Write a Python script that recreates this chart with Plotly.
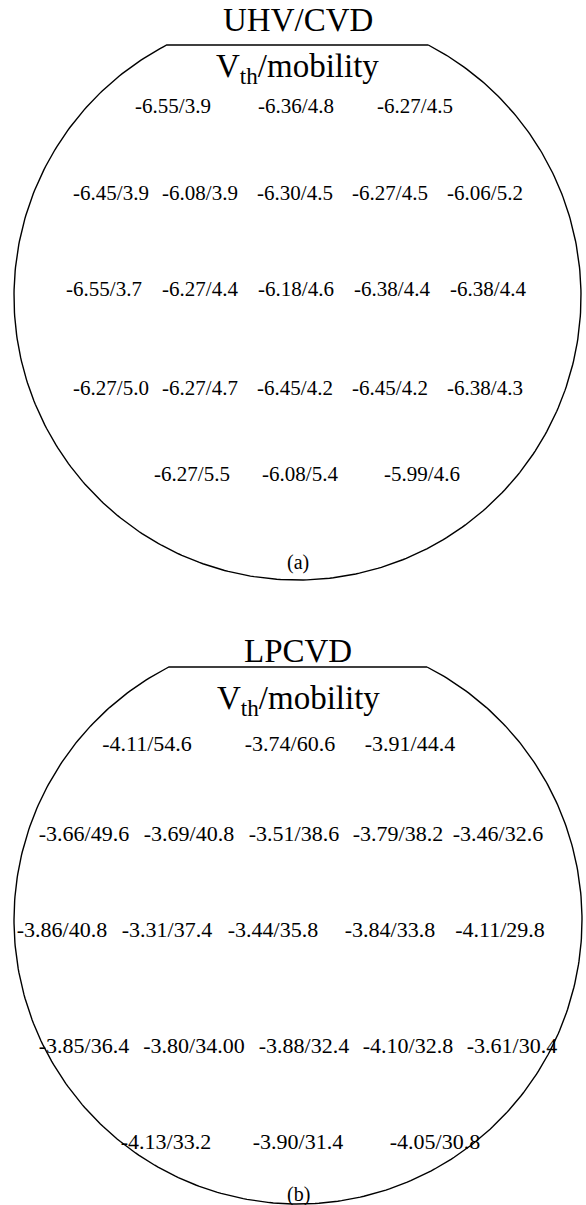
import numpy as np
import plotly.graph_objects as go

W, H = 586, 1205
FONT = "Liberation Serif"

# ---- measured data: threshold voltage (V) / mobility (cm^2/Vs) per die ----
uhv_vth = [-6.55, -6.36, -6.27,
           -6.45, -6.08, -6.30, -6.27, -6.06,
           -6.55, -6.27, -6.18, -6.38, -6.38,
           -6.27, -6.27, -6.45, -6.45, -6.38,
           -6.27, -6.08, -5.99]
uhv_mob = [3.9, 4.8, 4.5,
           3.9, 3.9, 4.5, 4.5, 5.2,
           3.7, 4.4, 4.6, 4.4, 4.4,
           5.0, 4.7, 4.2, 4.2, 4.3,
           5.5, 5.4, 4.6]
uhv_mob_dec = [1] * 21

lp_vth = [-4.11, -3.74, -3.91,
          -3.66, -3.69, -3.51, -3.79, -3.46,
          -3.86, -3.31, -3.44, -3.84, -4.11,
          -3.85, -3.80, -3.88, -4.10, -3.61,
          -4.13, -3.90, -4.05]
lp_mob = [54.6, 60.6, 44.4,
          49.6, 40.8, 38.6, 38.2, 32.6,
          40.8, 37.4, 35.8, 33.8, 29.8,
          36.4, 34.00, 32.4, 32.8, 30.4,
          33.2, 31.4, 30.8]
lp_mob_dec = [1] * 21
lp_mob_dec[14] = 2

# ---- placement of the die labels on each wafer (pixel positions) ----
uhv_rows_y = [108, 195, 291, 390, 476]
uhv_cols_x = [[173, 296, 415],
              [111, 200, 295, 390, 485],
              [104, 200, 296, 392, 488],
              [111, 200, 295, 390, 485],
              [192, 300, 422]]

lp_rows_y = [745, 835, 931, 1047, 1143]
lp_cols_x = [[147, 290, 410],
             [84, 189, 294, 398, 498],
             [62, 167, 273, 390, 500],
             [84, 194, 304, 408, 512],
             [166, 298, 435]]


def wafer_outline(cx, cy, r, y_flat, n=400):
    """Circle with a flat cut at y = y_flat (screen coords, y grows downward)."""
    half = np.sqrt(r ** 2 - (cy - y_flat) ** 2)
    a0 = np.arctan2(y_flat - cy, half)               # right end of the flat
    a1 = np.arctan2(y_flat - cy, -half) + 2 * np.pi  # left end, going round the bottom
    t = np.linspace(a0, a1, n)
    xs = cx + r * np.cos(t)
    ys = cy + r * np.sin(t)
    xs = np.append(xs, xs[0])
    ys = np.append(ys, ys[0])
    return xs, ys


def fmt(v, m, d):
    return f"{v:.2f}/{m:.{d}f}"


fig = go.Figure()

wafers = [
    dict(cx=297.5, cy=296.5, r=283.5, flat=45, title="UHV/CVD", title_y=20, sub_y=68,
         vth=uhv_vth, mob=uhv_mob, dec=uhv_mob_dec, rows=uhv_rows_y, cols=uhv_cols_x,
         size=21, tag="(a)", tag_y=562),
    dict(cx=298, cy=920, r=284, flat=667, title="LPCVD", title_y=651, sub_y=700,
         vth=lp_vth, mob=lp_mob, dec=lp_mob_dec, rows=lp_rows_y, cols=lp_cols_x,
         size=22, tag="(b)", tag_y=1194),
]

for wf in wafers:
    xs, ys = wafer_outline(wf["cx"], wf["cy"], wf["r"], wf["flat"])
    fig.add_trace(go.Scatter(x=xs, y=ys, mode="lines",
                             line=dict(color="black", width=1.4),
                             hoverinfo="skip", showlegend=False))

    tx, ty, tt = [], [], []
    k = 0
    for row_y, cols in zip(wf["rows"], wf["cols"]):
        for x in cols:
            tx.append(x)
            ty.append(row_y)
            tt.append(fmt(wf["vth"][k], wf["mob"][k], wf["dec"][k]))
            k += 1
    fig.add_trace(go.Scatter(x=tx, y=ty, mode="text", text=tt,
                             textposition="middle center",
                             textfont=dict(family=FONT, size=wf["size"], color="black"),
                             hoverinfo="skip", showlegend=False))

    fig.add_annotation(x=wf["cx"], y=wf["title_y"], text=wf["title"], showarrow=False,
                       font=dict(family=FONT, size=33, color="black"),
                       xanchor="center", yanchor="middle")
    fig.add_annotation(x=wf["cx"], y=wf["sub_y"], text="V<sub>th</sub>/mobility",
                       showarrow=False, font=dict(family=FONT, size=33, color="black"),
                       xanchor="center", yanchor="middle")
    fig.add_annotation(x=wf["cx"], y=wf["tag_y"], text=wf["tag"], showarrow=False,
                       font=dict(family=FONT, size=20, color="black"),
                       xanchor="center", yanchor="middle")

fig.update_xaxes(range=[0, W], visible=False, fixedrange=True)
fig.update_yaxes(range=[H, 0], visible=False, fixedrange=True)
fig.update_layout(width=W, height=H, margin=dict(l=0, r=0, t=0, b=0),
                  paper_bgcolor="white", plot_bgcolor="white")

fig.write_html("out.html", config={"displayModeBar": False})
